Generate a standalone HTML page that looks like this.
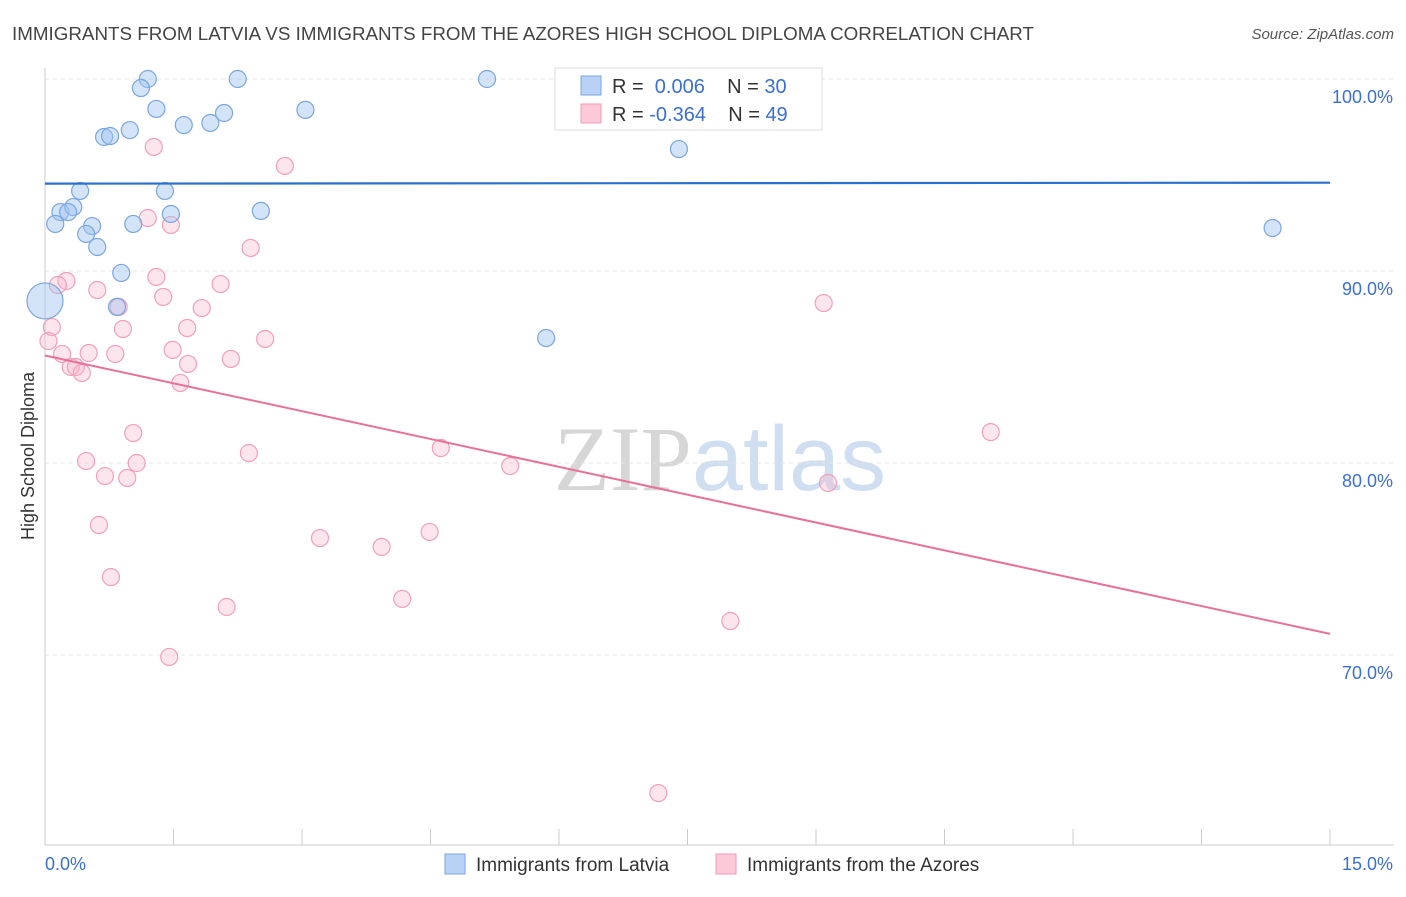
<!DOCTYPE html>
<html><head><meta charset="utf-8"><style>
body{margin:0;background:#fff;font-family:"Liberation Sans",sans-serif}
svg text{font-family:"Liberation Sans",sans-serif}
</style></head><body>
<svg id="chart" width="1406" height="892" xmlns="http://www.w3.org/2000/svg">
<text x="12" y="40" font-size="18" fill="#444" textLength="1022" lengthAdjust="spacingAndGlyphs">IMMIGRANTS FROM LATVIA VS IMMIGRANTS FROM THE AZORES HIGH SCHOOL DIPLOMA CORRELATION CHART</text>
<text x="1394" y="39" font-size="15" fill="#555" text-anchor="end" font-style="italic">Source: ZipAtlas.com</text>
<text x="720" y="490" font-size="92" text-anchor="middle" fill="#ddd" opacity="0.8"><tspan font-family="Liberation Serif" fill="#ccc">ZIP</tspan><tspan fill="#c5d6ee">atlas</tspan></text>
<g id="grid"></g>
<g id="axes"></g>
<g id="marks"></g>
<text transform="translate(34,456) rotate(-90)" font-size="18" fill="#333" text-anchor="middle">High School Diploma</text>
<g>
<rect x="555" y="68" width="267" height="62" fill="#fff" stroke="#ddd"/>
<rect x="581" y="76" width="20" height="19" fill="#b8d2f5" stroke="#7aa6e0"/>
<rect x="581" y="104" width="20" height="19" fill="#fbc9d8" stroke="#f09ab4"/>
<text x="612" y="93" font-size="20" fill="#333">R = <tspan fill="#3b6fd1">&#160;0.006</tspan>&#160;&#160;&#160;&#160;N = <tspan fill="#3b6fd1">30</tspan></text>
<text x="612" y="121" font-size="20" fill="#333">R = <tspan fill="#3b6fd1">-0.364</tspan>&#160;&#160;&#160;&#160;N = <tspan fill="#3b6fd1">49</tspan></text>
</g>
<g>
<rect x="445" y="854" width="20" height="20" fill="#b8d2f5" stroke="#7aa6e0"/>
<text x="476" y="871" font-size="19" fill="#333">Immigrants from Latvia</text>
<rect x="716" y="854" width="20" height="20" fill="#fbc9d8" stroke="#f09ab4"/>
<text x="747" y="871" font-size="19" fill="#333">Immigrants from the Azores</text>
</g>
</svg>
<script>
const blueX=[1.20,2.25,5.16,1.12,1.30,2.09,3.04,1.62,1.93,0.99,0.69,0.76,7.40,0.41,1.40,0.18,0.33,0.27,0.12,0.55,1.03,1.47,2.52,0.48,0.61,0.89,0.84,0.0,5.85,14.33];
const blueY=[100.0,100.0,100.0,99.53,98.44,98.23,98.39,97.60,97.71,97.34,96.98,97.03,96.35,94.17,94.17,93.07,93.33,93.07,92.45,92.34,92.45,92.97,93.13,91.93,91.25,89.90,88.13,88.44,86.51,92.24];
const pinkX=[1.27,2.80,1.20,1.47,2.40,1.30,0.25,0.15,2.05,0.61,1.38,1.83,0.86,0.08,0.91,1.66,2.57,0.04,1.49,0.20,0.51,0.82,2.17,1.67,0.30,0.36,0.43,1.58,1.03,2.38,4.62,0.48,1.07,5.43,0.70,0.96,9.14,11.04,9.09,0.63,3.21,3.93,4.49,0.77,4.17,2.12,8.00,1.45,7.16];
const pinkY=[96.46,95.47,92.76,92.40,91.20,89.69,89.48,89.27,89.32,89.01,88.65,88.07,88.13,87.08,86.98,87.03,86.46,86.35,85.89,85.68,85.73,85.68,85.42,85.16,85.00,85.00,84.69,84.17,81.56,80.52,80.78,80.10,80.00,79.84,79.32,79.22,78.96,81.61,88.33,76.77,76.09,75.63,76.41,74.06,72.92,72.50,71.77,69.90,62.81];
const yTicks=[100,90,80,70];
const yTickLabels=["100.0%","90.0%","80.0%","70.0%"];
const xTicks=[0,1.5,3,4.5,6,7.5,9,10.5,12,13.5,15];
const xEndLabels=["0.0%","15.0%"];
const blueTrend=[94.55,94.6];
const pinkTrend=[85.6,71.1];

const X=v=>45+v/15*1285;
const Y=v=>79+(100-v)*19.2;
const NS="http://www.w3.org/2000/svg";
function mk(p,tag,a){const e=document.createElementNS(NS,tag);for(const k in a)e.setAttribute(k,a[k]);document.getElementById(p).appendChild(e);return e;}

yTicks.forEach((t,i)=>{
 const g=mk('grid','line',{x1:45,x2:1394,y1:Y(t),y2:Y(t),stroke:'#e4e4e4','stroke-dasharray':'4 4'});
 
 
 const l=mk('grid','text',{x:1393,y:Y(t)+24,'font-size':18,fill:'#3b6fd1','text-anchor':'end'});
 l.textContent=yTickLabels[i];
 
 
});
const ax=mk('axes','line',{x1:45,x2:45,y1:68,y2:845,stroke:'#ccc'});


const bx=mk('axes','line',{x1:45,x2:1394,y1:845,y2:845,stroke:'#ccc'});


xTicks.forEach(t=>{
 const tk=mk('axes','line',{x1:X(t),x2:X(t),y1:829,y2:845,stroke:'#ccc'});
 
 
});
const xl0=mk('axes','text',{x:45,y:870,'font-size':18,fill:'#3b6fd1'});
xl0.textContent=xEndLabels[0];


const xl1=mk('axes','text',{x:1393,y:870,'font-size':18,fill:'#3b6fd1','text-anchor':'end'});
xl1.textContent=xEndLabels[1];



pinkX.forEach((v,i)=>{
 const c=mk('marks','circle',{cx:X(v),cy:Y(pinkY[i]),r:8.5,fill:'rgba(248,180,202,0.35)',stroke:'#f0a0b8','stroke-width':1.2});
 
 
});
blueX.forEach((v,i)=>{
 const r=(v===0)?18:8.5;
 const c=mk('marks','circle',{cx:X(v),cy:Y(blueY[i]),r:r,fill:'rgba(160,195,240,0.45)',stroke:'#7aa6e0','stroke-width':1.2});
 
 
});
const bt=mk('marks','line',{x1:X(0),x2:X(15),y1:Y(blueTrend[0]),y2:Y(blueTrend[1]),stroke:'#2a6fcf','stroke-width':2.2});


const pt=mk('marks','line',{x1:X(0),x2:X(15),y1:Y(pinkTrend[0]),y2:Y(pinkTrend[1]),stroke:'#e8709a','stroke-width':2});


</script>
</body></html>
